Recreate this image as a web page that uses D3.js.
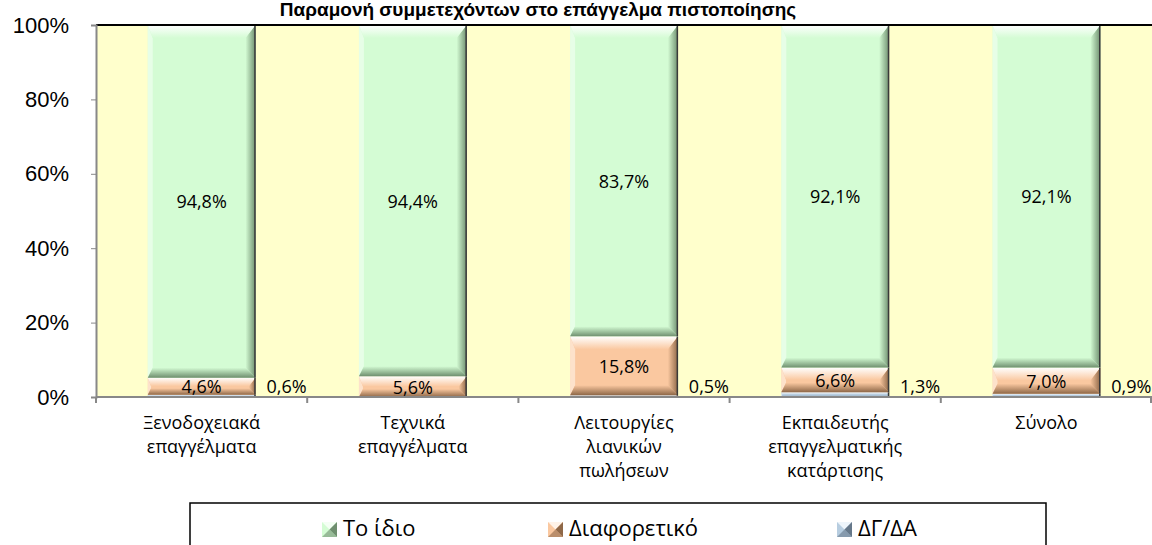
<!DOCTYPE html>
<html>
<head>
<meta charset="utf-8">
<script src="https://cdn.jsdelivr.net/npm/d3@7"></script>
<style>
  body { margin: 0; background: #fff; }
  svg { display: block; }
</style>
</head>
<body>
<div id="container"></div>
<script>
/* DATA */
const title = "Παραμονή συμμετεχόντων στο επάγγελμα πιστοποίησης";
const categories = [
  ["Ξενοδοχειακά", "επαγγέλματα"],
  ["Τεχνικά", "επαγγέλματα"],
  ["Λειτουργίες", "λιανικών", "πωλήσεων"],
  ["Εκπαιδευτής", "επαγγελματικής", "κατάρτισης"],
  ["Σύνολο"]
];
const seriesNames = ["ΔΓ/ΔΑ", "Διαφορετικό", "Το ίδιο"];
const dgda = [0.6, 0.0, 0.5, 1.3, 0.9];
const diaforetiko = [4.6, 5.6, 15.8, 6.6, 7.0];
const toIdio = [94.8, 94.4, 83.7, 92.1, 92.1];
const yTicks = [0, 20, 40, 60, 80, 100];

/* LAYOUT */
const width = 1152, height = 545;
const plot = { left: 96, right: 1152, top: 25, bottom: 397 };

const colors = {
  "Το ίδιο": { base: "#d4fcd4", light: "#f4fff4", dark: "#6f8f6f" },
  "Διαφορετικό": { base: "#fac8a0", light: "#fff3e8", dark: "#8f6848" },
  "ΔΓ/ΔΑ": { base: "#b7cde0", light: "#eef5fb", dark: "#66788a" }
};

const svg = d3.select("#container").append("svg")
  .attr("width", width).attr("height", height);

const defs = svg.append("defs");
Object.entries(colors).forEach(([name, c], i) => {
  const top = defs.append("linearGradient").attr("id", "gt" + i)
    .attr("x1", 0).attr("y1", 0).attr("x2", 0).attr("y2", 1);
  top.append("stop").attr("offset", "0%").attr("stop-color", "#ffffff");
  top.append("stop").attr("offset", "100%").attr("stop-color", c.base);
  const right = defs.append("linearGradient").attr("id", "gr" + i)
    .attr("x1", 0).attr("y1", 0).attr("x2", 1).attr("y2", 0);
  right.append("stop").attr("offset", "0%").attr("stop-color", c.base);
  right.append("stop").attr("offset", "100%").attr("stop-color", c.dark);
  const bot = defs.append("linearGradient").attr("id", "gb" + i)
    .attr("x1", 0).attr("y1", 0).attr("x2", 0).attr("y2", 1);
  bot.append("stop").attr("offset", "0%").attr("stop-color", c.base);
  bot.append("stop").attr("offset", "100%").attr("stop-color", c.dark);
  c.idx = i;
});

// SCALES
const x = d3.scaleBand().domain(d3.range(categories.length))
  .range([plot.left, plot.right]).paddingInner(0.49).paddingOuter(0.245);
const xOuter = d3.scaleBand().domain(d3.range(categories.length))
  .range([plot.left, plot.right]);
const y = d3.scaleLinear().domain([0, 100]).range([plot.bottom, plot.top]);

// PLOT BACKGROUND
svg.append("rect")
  .attr("x", plot.left).attr("y", plot.top)
  .attr("width", plot.right - plot.left).attr("height", plot.bottom - plot.top)
  .attr("fill", "#ffffcc");

// STACK
const rows = categories.map((c, i) => ({
  "ΔΓ/ΔΑ": dgda[i], "Διαφορετικό": diaforetiko[i], "Το ίδιο": toIdio[i]
}));
const stacked = d3.stack().keys(seriesNames)(rows);

function bevelBar(g, x0, y0, w, h, c) {
  const k = Math.min(1, h / 26);
  const bt = 13 * k, bb = 10 * k, bl = 5 * k, br = 10 * k;
  const x1 = x0 + w, y1 = y0 + h;
  g.append("rect").attr("x", x0).attr("y", y0).attr("width", w).attr("height", h)
    .attr("fill", c.base);
  // left
  g.append("polygon")
    .attr("points", [[x0, y0], [x0 + bl, y0 + bt], [x0 + bl, y1 - bb], [x0, y1]].join(" "))
    .attr("fill", c.light).attr("opacity", 0.6);
  // right
  g.append("polygon")
    .attr("points", [[x1, y0], [x1, y1], [x1 - br, y1 - bb], [x1 - br, y0 + bt]].join(" "))
    .attr("fill", `url(#gr${c.idx})`);
  // bottom
  g.append("polygon")
    .attr("points", [[x0, y1], [x1, y1], [x1 - br, y1 - bb], [x0 + bl, y1 - bb]].join(" "))
    .attr("fill", `url(#gb${c.idx})`);
  // top
  g.append("polygon")
    .attr("points", [[x0, y0], [x1, y0], [x1 - br, y0 + bt], [x0 + bl, y0 + bt]].join(" "))
    .attr("fill", `url(#gt${c.idx})`);
  g.append("line").attr("x1", x1 - 0.5).attr("x2", x1 - 0.5).attr("y1", y0).attr("y2", y1)
    .attr("stroke", "#3a3a3a").attr("stroke-width", 1.5);
}

const barsG = svg.append("g");
stacked.forEach(layer => {
  const c = colors[layer.key];
  layer.forEach((d, i) => {
    const h = y(d[0]) - y(d[1]);
    if (h <= 0) return;
    bevelBar(barsG.append("g"), x(i), y(d[1]), x.bandwidth(), h, c);
  });
});

// DATA LABELS
const fmt = v => v.toFixed(1).replace(".", ",") + "%";
const labelFont = "Open Sans, DejaVu Sans, sans-serif";
stacked.forEach(layer => {
  layer.forEach((d, i) => {
    const v = d[1] - d[0];
    if (v <= 0) return;
    const t = svg.append("text")
      .attr("font-family", labelFont).attr("font-size", 18)
      .attr("fill", "#000").attr("dominant-baseline", "central")
      .text(fmt(v));
    if (layer.key === "ΔΓ/ΔΑ") {
      t.attr("x", x(i) + x.bandwidth() + 11).attr("y", y(0) - 11);
    } else {
      t.attr("x", x(i) + x.bandwidth() / 2).attr("y", y((d[0] + d[1]) / 2))
        .attr("text-anchor", "middle");
    }
  });
});

// TOP BORDER
svg.append("line").attr("x1", plot.left).attr("x2", plot.right)
  .attr("y1", plot.top).attr("y2", plot.top)
  .attr("stroke", "#000").attr("stroke-width", 2);

// Y AXIS
const yAxis = svg.append("g").attr("transform", `translate(${plot.left},0)`)
  .call(d3.axisLeft(y).tickValues(yTicks).tickFormat(d => d + "%").tickSize(5).tickPadding(22));
yAxis.select(".domain").attr("stroke", "#888").attr("stroke-width", 2);
yAxis.selectAll(".tick line").attr("stroke", "#888");
yAxis.selectAll("text").attr("font-family", "Liberation Sans, Arial, sans-serif")
  .attr("font-size", 22).attr("fill", "#000");

// X AXIS
const xAxisG = svg.append("g");
xAxisG.append("line").attr("x1", plot.left).attr("x2", plot.right)
  .attr("y1", plot.bottom).attr("y2", plot.bottom)
  .attr("stroke", "#888").attr("stroke-width", 2);
xAxisG.selectAll(".xtick").data(d3.range(categories.length + 1)).join("line")
  .attr("x1", i => i < categories.length ? xOuter(i) : plot.right - 1)
  .attr("x2", i => i < categories.length ? xOuter(i) : plot.right - 1)
  .attr("y1", plot.bottom).attr("y2", plot.bottom + 6)
  .attr("stroke", "#888").attr("stroke-width", 2);

categories.forEach((lines, i) => {
  const t = svg.append("text")
    .attr("font-family", labelFont).attr("font-size", 18)
    .attr("text-anchor", "middle").attr("fill", "#000");
  lines.forEach((ln, j) => {
    t.append("tspan").attr("x", xOuter(i) + xOuter.bandwidth() / 2)
      .attr("y", 429 + j * 24).text(ln);
  });
});

// TITLE
svg.append("text").attr("x", 538).attr("y", 16)
  .attr("text-anchor", "middle")
  .attr("font-family", "Liberation Sans, Arial, sans-serif")
  .attr("font-weight", "bold").attr("font-size", 19)
  .text(title);

// LEGEND
svg.append("rect").attr("x", 190).attr("y", 503).attr("width", 856).attr("height", 60)
  .attr("fill", "#fff").attr("stroke", "#000").attr("stroke-width", 1.5);
const legendItems = [
  { name: "Το ίδιο", x: 322 },
  { name: "Διαφορετικό", x: 548 },
  { name: "ΔΓ/ΔΑ", x: 837 }
];
legendItems.forEach(it => {
  const c = colors[it.name];
  const g = svg.append("g");
  const s = 15, lx = it.x, ly = 522;
  g.append("rect").attr("x", lx).attr("y", ly).attr("width", s).attr("height", s).attr("fill", c.base);
  g.append("polygon").attr("points", [[lx, ly], [lx + s, ly], [lx + s / 2, ly + s / 2]].join(" ")).attr("fill", c.light);
  g.append("polygon").attr("points", [[lx + s, ly], [lx + s, ly + s], [lx + s / 2, ly + s / 2]].join(" ")).attr("fill", c.dark);
  g.append("polygon").attr("points", [[lx, ly + s], [lx + s, ly + s], [lx + s / 2, ly + s / 2]].join(" ")).attr("fill", c.dark).attr("opacity", 0.6);
  g.append("text").attr("x", lx + s + 6).attr("y", 527)
    .attr("dominant-baseline", "central")
    .attr("font-family", "Open Sans, DejaVu Sans, sans-serif").attr("font-size", 22)
    .text(it.name);
});
</script>
</body>
</html>
